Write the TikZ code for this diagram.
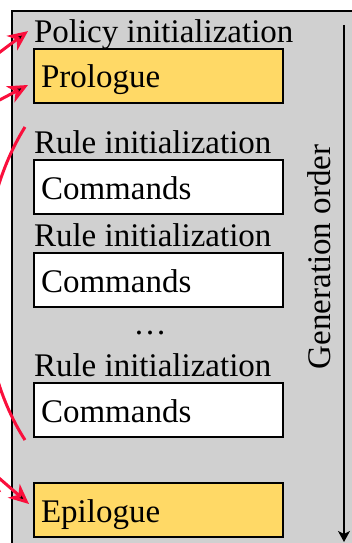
\documentclass[tikz,border=0pt]{standalone}
\usepackage{fontspec}
\setmainfont{Liberation Serif}
\usepackage{xcolor}
\usepackage{tikz}
\usetikzlibrary{arrows.meta,positioning,calc}

\definecolor{panelgray}{RGB}{208,208,208}
\definecolor{prologfill}{RGB}{255,217,102}
\definecolor{arrowred}{RGB}{250,15,60}

\tikzset{
  codebox/.style={rectangle,draw=black,line width=1.2pt,outer sep=0pt,
    minimum height=54pt,text width=235pt,inner xsep=7pt,inner ysep=0pt,
    text height=25pt,text depth=1pt,align=left,anchor=north west},
  lbl/.style={inner sep=0pt,outer sep=0pt,anchor=base west},
  redarrow/.style={draw=arrowred,line width=3pt,-{Stealth[length=20pt,width=18pt,inset=6pt]}}
}

\begin{document}
\begin{tikzpicture}[x=1pt,y=-1pt,font=\fontsize{33}{40}\selectfont]
  \useasboundingbox (0,0) rectangle (352,543);

  % panel
  \path[draw=black,fill=panelgray,line width=1.2pt] (12,11) rectangle (370,570);

  \node (pro)  [codebox,fill=prologfill] at (34,49) {Prologue};
  \node (pol)  [above=7pt of pro.north west,lbl] {Policy initialization};
  \node (cmda) [codebox,fill=white,below=57pt of pro] {Commands};
  \node (rula) [above=7pt of cmda.north west,lbl] {Rule initialization};
  \node (cmdb) [codebox,fill=white,below=39pt of cmda] {Commands};
  \node (rulb) [above=7pt of cmdb.north west,lbl] {Rule initialization};
  \node (cmdc) [codebox,fill=white,below=76pt of cmdb] {Commands};
  \node (rulc) [above=7pt of cmdc.north west,lbl] {Rule initialization};
  \node (dots) [inner sep=0pt,anchor=base] at (150,334) {…};
  \node (epi)  [codebox,fill=prologfill,below=46pt of cmdc] {Epilogue};

  % generation order
  \node (gen) [rotate=90,anchor=base,inner sep=0pt] at (330,257) {Generation order};
  \coordinate (gtop) at (344,25);
  \coordinate (gbot) at (344,542);
  \draw[line width=1.2pt,-{Stealth[length=11pt,width=12pt,inset=3pt]}] (gtop) -- (gbot);

  % red markers
  \coordinate (ra) at (-8,58);
  \coordinate (rb) at (-8,104);
  \coordinate (rd) at (-8,472);
  \coordinate (ca) at (25,127);
  \coordinate (cb) at (25,440);
  \path[redarrow] (ra) edge ([shift={(-6pt,3pt)}]pol.west)
                  (rb) edge ([shift={(-6pt,-9pt)}]pro.west)
                  (rd) edge ([shift={(-5pt,6pt)}]epi.west);
  \draw[arrowred,line width=3pt] (ca) .. controls (-30,215) and (-30,355) .. (cb);

\end{tikzpicture}
\end{document}
